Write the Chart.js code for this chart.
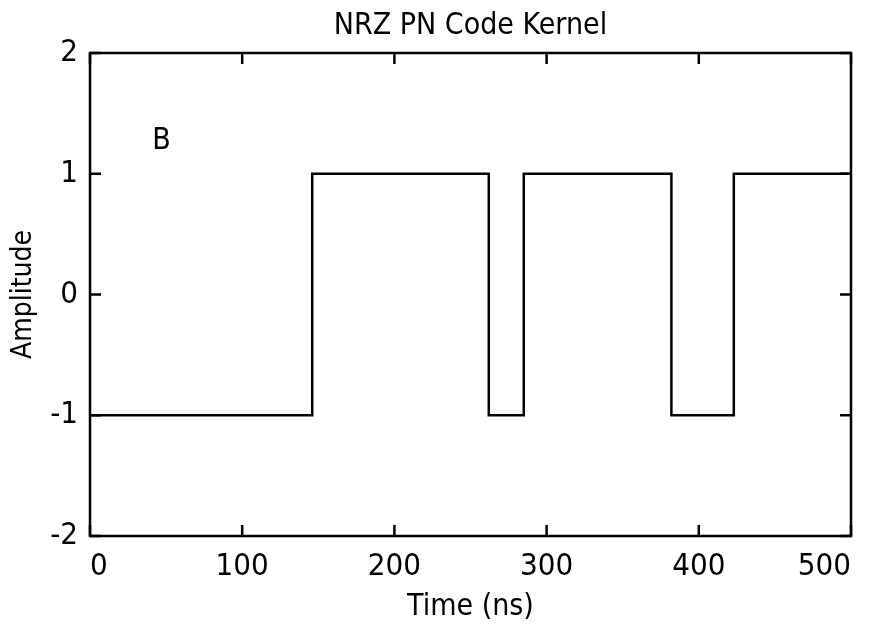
<!DOCTYPE html>
<html>
<head>
<meta charset="utf-8">
<script src="https://cdn.jsdelivr.net/npm/chart.js@4.4.0/dist/chart.umd.min.js"></script>
<style>
  html, body { margin: 0; padding: 0; background: #fff; }
  #wrap { width: 872px; height: 631px; }
</style>
</head>
<body>
<div id="wrap"><canvas id="kernelChart" width="872" height="631"></canvas></div>
<script>
// chip edges (ns) and the level that starts at each edge
const edgeTimes = [0, 146, 262, 285, 382, 423, 500];
const edgeLevels = [-1, 1, -1, 1, -1, 1, 1];
const xTicks = [0, 100, 200, 300, 400, 500];
const yTicks = [-2, -1, 0, 1, 2];
const markLabel = { text: 'B', x: 47, y: 1.27 };

const FONT = '"Liberation Sans Narrow", "Arial Narrow", "DejaVu Sans Condensed", sans-serif';

const points = edgeTimes.map((t, i) => ({ x: t, y: edgeLevels[i] }));

// MATLAB style box with inward ticks + the "B" label
const boxPlugin = {
  id: 'box',
  afterDraw(chart) {
    const { ctx, chartArea: a, scales } = chart;
    ctx.save();
    ctx.strokeStyle = '#000';
    ctx.lineWidth = 2.5;
    ctx.strokeRect(a.left, a.top, a.right - a.left, a.bottom - a.top);
    ctx.beginPath();
    xTicks.forEach(v => {
      const px = scales.x.getPixelForValue(v);
      ctx.moveTo(px, a.bottom); ctx.lineTo(px, a.bottom - 11);
      ctx.moveTo(px, a.top); ctx.lineTo(px, a.top + 11);
    });
    yTicks.forEach(v => {
      const py = scales.y.getPixelForValue(v);
      ctx.moveTo(a.left, py); ctx.lineTo(a.left + 11, py);
      ctx.moveTo(a.right, py); ctx.lineTo(a.right - 11, py);
    });
    ctx.stroke();
    ctx.fillStyle = '#000';
    ctx.font = '30px ' + FONT;
    ctx.textAlign = 'center';
    ctx.textBaseline = 'middle';
    ctx.fillText(markLabel.text, scales.x.getPixelForValue(markLabel.x), scales.y.getPixelForValue(markLabel.y));
    ctx.restore();
  }
};

new Chart(document.getElementById('kernelChart').getContext('2d'), {
  type: 'line',
  data: {
    datasets: [{
      data: points,
      stepped: 'before',
      borderColor: '#000',
      borderWidth: 2.5,
      pointRadius: 0,
      fill: false
    }]
  },
  options: {
    responsive: false,
    animation: false,
    layout: { padding: { left: 0, right: 21, top: 0, bottom: 0 } },
    plugins: {
      legend: { display: false },
      tooltip: { enabled: false },
      title: {
        display: true,
        fullSize: false,
        text: 'NRZ PN Code Kernel',
        color: '#000',
        font: { family: FONT, size: 30, weight: 'normal' },
        padding: { top: 8, bottom: 9 }
      }
    },
    scales: {
      x: {
        type: 'linear',
        min: 0,
        max: 500,
        afterBuildTicks: s => { s.ticks = xTicks.map(v => ({ value: v })); },
        afterFit: s => { s.height = 95; s.paddingLeft = 0; s.paddingRight = 0; },
        grid: { display: false },
        border: { display: false },
        ticks: { color: '#000', padding: 4, align: 'inner', font: { family: FONT, size: 31 } },
        title: {
          display: true,
          text: 'Time (ns)',
          color: '#000',
          font: { family: FONT, size: 30 },
          padding: { top: 0, bottom: 6 }
        }
      },
      y: {
        min: -2,
        max: 2,
        afterBuildTicks: s => { s.ticks = yTicks.map(v => ({ value: v })); },
        afterFit: s => { s.width = 90; s.paddingTop = 0; s.paddingBottom = 0; },
        grid: { display: false },
        border: { display: false },
        ticks: { color: '#000', padding: 4, font: { family: FONT, size: 31 } },
        title: {
          display: true,
          text: 'Amplitude',
          color: '#000',
          font: { family: FONT, size: 28 },
          padding: { top: 7, bottom: 0 }
        }
      }
    }
  },
  plugins: [boxPlugin]
});
</script>
</body>
</html>
